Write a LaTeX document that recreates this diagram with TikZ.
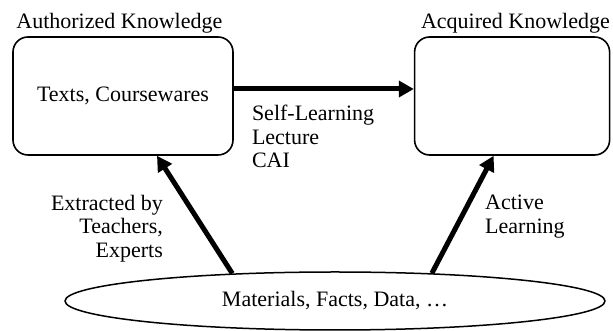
\documentclass[tikz,border=0pt]{standalone}
\usepackage{fontspec}
\setmainfont{Liberation Serif}
\usetikzlibrary{arrows.meta,positioning,shapes.geometric}

\begin{document}
\begin{tikzpicture}[x=1pt,y=1pt,font=\fontsize{22}{23.5}\selectfont,
  kbox/.style={draw,line width=1.6pt,rounded corners=15pt,minimum height=118pt,inner sep=0pt},
  ttl/.style={anchor=base west,inner sep=0pt},
  lbl/.style={inner sep=0pt},
  bigarrow/.style={line width=5pt,-{Triangle[length=15pt,width=16pt]}}]
\useasboundingbox (0,0) rectangle (613,331);

\node[kbox,minimum width=220pt](authBox) at (123,235){Texts, Coursewares};
\node[kbox,minimum width=195pt,right=180pt of authBox](acqBox){};
\node[ttl](authTitle) at ([xshift=4pt,yshift=8pt]authBox.north west){Authorized Knowledge};
\node[ttl](acqTitle) at ([xshift=7pt,yshift=8pt]acqBox.north west){Acquired Knowledge};

\node[draw,ellipse,line width=1.5pt,minimum width=540pt,minimum height=58pt,inner sep=0pt](mat)
  at (335,30){\raisebox{-5pt}{Materials, Facts, Data, …}};

\draw[bigarrow]([yshift=7pt]authBox.east)--([yshift=7pt]acqBox.west);
\draw[bigarrow](mat.165)--([xshift=34pt]authBox.south);
\draw[bigarrow](mat.16)--([xshift=-18.5pt]acqBox.south);

\node[lbl,anchor=north west,align=left](midLbl) at ([xshift=18pt,yshift=-9pt]authBox.east)
  {Self-Learning\\Lecture\\CAI};
\node[lbl,anchor=north east,align=right](extLbl) at (163,136){Extracted by\\Teachers,\\Experts};
\node[lbl,anchor=north west,align=left](actLbl) at (485,136){Active\\Learning};
\end{tikzpicture}
\end{document}
